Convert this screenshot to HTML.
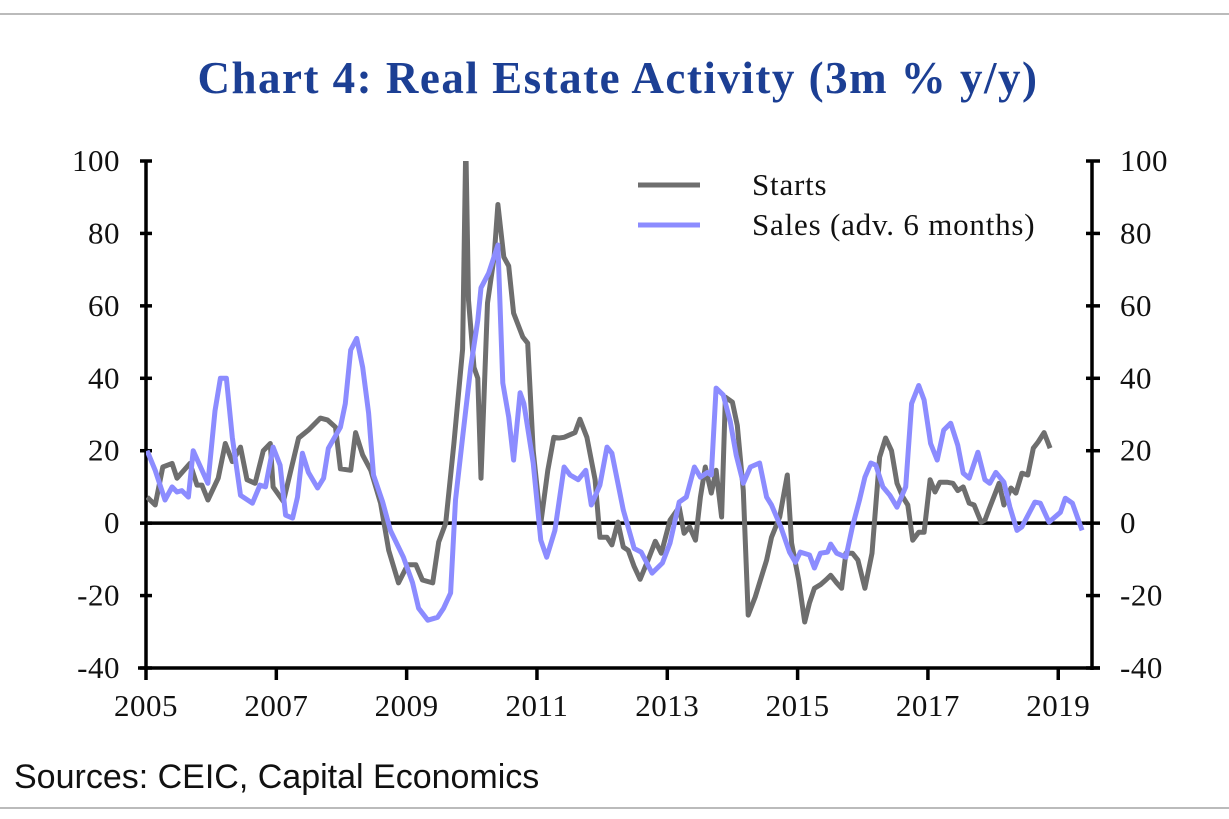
<!DOCTYPE html>
<html><head><meta charset="utf-8"><style>
body{margin:0;background:#fff;}
svg{display:block;}
</style></head><body>
<svg id="c" width="1229" height="819" viewBox="0 0 1229 819" xmlns="http://www.w3.org/2000/svg">
<line x1="0" y1="14" x2="1229" y2="14" stroke="#bbb" stroke-width="2"/>
<line x1="0" y1="808" x2="1229" y2="808" stroke="#bbb" stroke-width="2"/>
<text x="618" y="93" text-anchor="middle" font-family="Liberation Serif, serif" font-weight="bold" font-size="45" letter-spacing="1.5" fill="#1c3f94">Chart 4: Real Estate Activity (3m % y/y)</text>
<text x="14" y="788" font-family="Liberation Sans, sans-serif" font-size="34" fill="#111">Sources: CEIC, Capital Economics</text>
<g id="axes"></g>
<g id="series"></g>
<g>
<line x1="638" y1="185" x2="700" y2="185" stroke="#6e6e6e" stroke-width="5"/>
<text x="752" y="195" font-family="Liberation Serif, serif" font-size="31" letter-spacing="0.8" fill="#111">Starts</text>
<line x1="638" y1="225" x2="700" y2="225" stroke="#8c8cff" stroke-width="5"/>
<text x="752" y="235" font-family="Liberation Serif, serif" font-size="31" letter-spacing="0.8" fill="#111">Sales (adv. 6 months)</text>
</g>
</svg>
<script>
const yTicks=[100,80,60,40,20,0,-20,-40];
const xTickYears=[2005,2007,2009,2011,2013,2015,2017,2019];
const startsMonths=[0.2,1.7,3.1,4.8,5.7,8.1,9.4,10.3,11.4,13.3,14.6,15.9,17.4,18.6,20.1,21.6,22.9,23.4,25.3,28.1,29.9,32.1,33.4,34.9,35.8,37.7,38.6,39.9,41.4,43.2,44.7,46.5,48.2,49.7,50.9,52.8,53.9,55.2,56.7,58.3,58.9,59.4,60.4,61.1,61.7,62.9,64.1,64.8,65.9,66.8,67.7,69.4,70.3,71.3,72.7,74.0,75.1,76.1,77.0,79.0,79.9,81.2,82.7,83.6,84.9,85.8,86.9,87.9,88.8,89.9,91.0,92.5,93.8,94.9,96.5,98.2,99.1,100.1,101.2,102.1,103.0,104.1,105.0,106.0,106.7,108.0,108.9,110.0,110.9,112.2,113.3,114.3,115.2,116.7,118.1,118.9,120.2,121.3,122.2,123.1,124.2,125.2,126.1,127.2,128.1,128.9,130.1,131.1,132.4,133.7,135.1,136.2,137.3,138.3,139.4,140.3,141.2,142.3,143.3,144.4,145.3,146.2,147.5,148.6,149.5,150.5,151.6,152.5,153.8,154.5,155.4,157.1,158.0,159.3,160.2,161.3,162.4,163.4,164.3,165.4,166.5];
const startsValues=[7.2,5,15.5,16.5,12.4,16.5,10.5,10.5,6.4,12.4,22,17,21,12,11,20,22,10,6,23.5,25.7,29,28.5,26.5,15,14.6,25,18.8,14.6,5.5,-7.5,-16.5,-11.5,-11.5,-15.7,-16.5,-5.2,0,22,48,105,61.6,43,40,12.4,60.8,73.5,88,73.5,71,58,51.4,49.7,20,0,14.6,23.7,23.5,23.7,25,28.7,23.7,12,-3.9,-3.9,-6,0.3,-6.6,-7.5,-12,-15.5,-10,-5,-8.3,0.8,4.4,-2.8,-1,-4.7,7.2,15.5,8.3,14.6,1.7,34.8,33.4,27,9,-25.4,-20.4,-15,-10.2,-3.9,1.7,13.3,-5.5,-15.7,-27.3,-22,-18,-17,-15.7,-14.4,-16.5,-18,-8.3,-8.3,-10.2,-18,-8.3,18.2,23.5,20,11,7.2,5,-4.7,-2.5,-2.5,12,8.6,11.3,11.3,11,9,10,5.5,5,0.3,0.8,4.4,11,5,9.7,8.3,13.8,13.3,20.7,22.4,25,20.7];
const salesMonths=[0.2,1.7,3.5,4.8,5.7,6.6,7.8,8.7,9.6,11.4,12.7,13.7,14.8,15.9,17.4,19.6,21.0,22.0,23.4,24.7,25.7,27.0,27.9,28.8,29.9,31.6,32.7,33.6,35.8,36.7,37.7,38.8,39.9,41.0,41.9,43.6,45.0,47.4,49.1,50.2,51.9,53.7,54.8,56.1,57.0,58.3,59.8,61.1,61.7,63.1,64.8,65.7,66.8,67.7,68.9,69.6,71.3,72.7,73.8,75.3,77.0,78.1,79.6,81.0,82.0,83.6,84.9,85.8,87.9,89.9,91.2,93.2,95.1,96.5,98.2,99.5,101.0,102.1,103.4,104.1,105.0,106.3,107.6,108.7,110.0,111.3,113.0,114.3,115.2,116.9,118.5,119.6,120.5,122.2,123.1,124.2,125.5,126.1,127.2,128.9,130.1,131.4,132.4,133.5,134.4,135.7,137.0,138.3,139.9,141.0,142.3,143.3,144.5,145.7,146.9,148.2,149.5,150.5,151.6,153.2,154.5,155.4,156.5,158.0,159.1,160.4,161.3,163.7,164.7,166.3,168.4,169.3,170.6,172.4];
const salesValues=[20,14.6,6.4,10,8.6,9,7.2,20,17,11,31,40,40,23.7,7.7,5.5,10.5,10,21,16,2.2,1.4,7.2,19.3,14,9.7,12.4,20.7,26.5,33,47.8,51,43,30.4,13.3,5.8,-2,-9.4,-16.5,-23.5,-26.8,-26,-23.5,-19.3,6.4,23.7,43,56,65,69,76.8,38.7,29.3,17.4,36,33,16.6,-4.7,-9.4,-2,15.5,13.3,12,14.6,5,10.5,21,19.3,3.6,-7,-8,-13.8,-11,-5.5,5.8,7.2,15.5,12.7,14,13.3,37.3,35.4,28,18.8,11,15.5,16.6,7.2,5,-1,-8,-10.8,-8,-8.8,-12.4,-8.3,-8,-5.8,-8.3,-9.4,-1,6.4,12.7,16.6,16,10,7.7,4.4,10,33,38,34,22,17.4,25.7,27.6,21.5,13.8,12.4,19.6,12,11,14,11.3,4.4,-2,-1,5.8,5.5,0.3,3,6.9,5.5,-2];

const NS='http://www.w3.org/2000/svg';
const L=146,R=1092,T=161,B=668;
function xScale(m){return L+m*5.43;}
function yScale(v){return T+(100-v)*(B-T)/140;}
const axes=document.getElementById('axes');
function mk(tag,attrs,parent){const e=document.createElementNS(NS,tag);for(const k in attrs)e.setAttribute(k,attrs[k]);parent.appendChild(e);return e;}
let e;
e=mk('line',{x1:L,y1:T,x2:L,y2:B+2,stroke:'#000','stroke-width':3.5},axes);


e=mk('line',{x1:R,y1:T,x2:R,y2:B+2,stroke:'#000','stroke-width':3.5},axes);


e=mk('line',{x1:L-8,y1:B,x2:R+8,y2:B,stroke:'#000','stroke-width':3.5},axes);


e=mk('line',{x1:L,y1:yScale(0),x2:R,y2:yScale(0),stroke:'#000','stroke-width':3.5},axes);


yTicks.forEach(v=>{
  const y=yScale(v);
  e=mk('line',{x1:L-6,y1:y,x2:L+6,y2:y,stroke:'#000','stroke-width':3.5},axes);
  
  
  e=mk('line',{x1:R-6,y1:y,x2:R+8,y2:y,stroke:'#000','stroke-width':3.5},axes);
  
  
  e=mk('text',{x:120,y:y+10,'text-anchor':'end','font-family':'Liberation Serif, serif','font-size':31,'letter-spacing':0.5,fill:'#111'},axes);
  e.textContent=v;
  
  
  e=mk('text',{x:1120,y:y+10,'text-anchor':'start','font-family':'Liberation Serif, serif','font-size':31,'letter-spacing':0.5,fill:'#111'},axes);
  e.textContent=v;
  
  
});
xTickYears.forEach(yr=>{
  const x=xScale((yr-2005)*12);
  e=mk('line',{x1:x,y1:B,x2:x,y2:B+12,stroke:'#000','stroke-width':3.5},axes);
  
  
  e=mk('text',{x:x,y:B+48,'text-anchor':'middle','font-family':'Liberation Serif, serif','font-size':31,'letter-spacing':0.5,fill:'#111'},axes);
  e.textContent=yr;
  
  
});
const series=document.getElementById('series');
mk('clipPath',{id:'clip'},series).appendChild(document.createElementNS(NS,'rect'));
const cr=series.querySelector('clipPath rect');cr.setAttribute('x',L);cr.setAttribute('y',T);cr.setAttribute('width',R-L);cr.setAttribute('height',B-T);
function pts(ms,vs){return ms.map((m,i)=>xScale(m).toFixed(1)+','+yScale(vs[i]).toFixed(1)).join(' ');}
e=mk('polyline',{points:pts(startsMonths,startsValues),fill:'none',stroke:'#6e6e6e','stroke-width':5,'stroke-linejoin':'round','clip-path':'url(#clip)'},series);


e=mk('polyline',{points:pts(salesMonths,salesValues),fill:'none',stroke:'#8c8cff','stroke-width':5,'stroke-linejoin':'round','clip-path':'url(#clip)'},series);


</script>
</body></html>
